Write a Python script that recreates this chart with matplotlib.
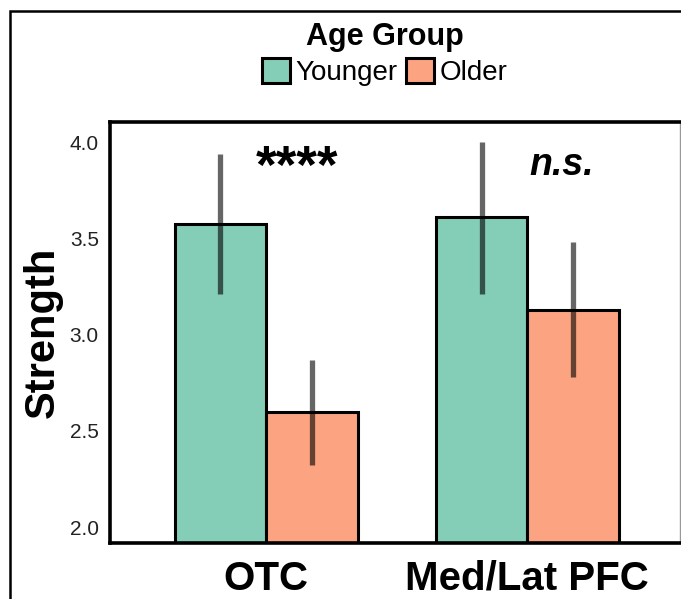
import numpy as np
import matplotlib
matplotlib.use("Agg")
import matplotlib.pyplot as plt
from matplotlib.patches import Rectangle, Patch

plt.rcParams['font.family'] = ['Liberation Sans', 'DejaVu Sans']

regions = ['OTC', 'Med/Lat PFC']
groups = ['Younger', 'Older']
means = {'Younger': [3.575, 3.61], 'Older': [2.60, 3.13]}
lower = {'Younger': [3.21, 3.21], 'Older': [2.32, 2.78]}
upper = {'Younger': [3.94, 4.00], 'Older': [2.87, 3.48]}
signif = ['****', 'n.s.']
colors = {'Younger': '#84ceb7', 'Older': '#fca481'}

fig = plt.figure(figsize=(6.81, 5.99), dpi=100)
ax = fig.add_axes([0.1615, 0.0935, 0.8375, 0.7028])

# outer frame (cropped on right / bottom)
fig.patches.append(Rectangle((0.0147, -0.1), 1.2, 1.082, transform=fig.transFigure,
                             fill=False, ec='black', lw=1.8, zorder=0))

x = np.arange(len(regions))
w = 0.35
for i, g in enumerate(groups):
    xs = x + (i - 0.5) * w
    ax.bar(xs, means[g], width=w, bottom=0, color=colors[g], edgecolor='black',
           linewidth=2.2, zorder=2)
    ax.vlines(xs, lower[g], upper[g], color='black', alpha=0.6, lw=3.8, zorder=3)

ax.text(0.12, 3.86, signif[0], ha='center', va='center', fontsize=38, fontweight='bold')
ax.text(1.13, 3.88, signif[1], ha='center', va='center', fontsize=27,
        fontweight='bold', fontstyle='italic')

ax.set_xlim(-0.598, 1.586)
ax.set_ylim(1.917, 4.104)
ax.set_yticks([2.0, 2.5, 3.0, 3.5, 4.0])
ax.set_yticklabels(['2.0', '2.5', '3.0', '3.5', '4.0'])
ax.set_xticks(x)
ax.set_xticklabels(regions, fontsize=29, fontweight='bold')
ax.tick_params(axis='y', length=0, pad=8, labelsize=15, labelcolor='#222222')
ax.tick_params(axis='x', length=0, pad=12)
ax.set_ylabel('Strength', fontsize=30, fontweight='bold', labelpad=5)

for s in ['left', 'bottom', 'top']:
    ax.spines[s].set_linewidth(2.6)
ax.spines['right'].set_linewidth(1)
ax.spines['right'].set_color('#999999')

handles = [Patch(facecolor=colors[g], edgecolor='black', linewidth=2.2, label=g) for g in groups]
leg = fig.legend(handles=handles, loc='upper center', bbox_to_anchor=(0.565, 0.995),
                 ncol=2, frameon=False, fontsize=20, title='Age Group',
                 title_fontproperties={'weight': 'bold', 'size': 22},
                 handlelength=1.0, handleheight=1.0, handletextpad=0.2,
                 columnspacing=0.3, borderpad=0.2, labelspacing=0.2)

fig.savefig('out.png', dpi=100)
